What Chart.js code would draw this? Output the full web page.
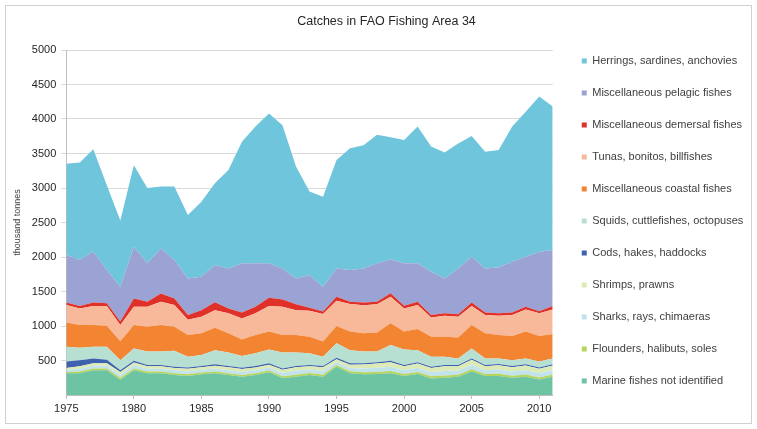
<!DOCTYPE html>
<html>
<head>
<meta charset="utf-8">
<script src="https://cdn.jsdelivr.net/npm/chart.js"></script>
<style>
  body { margin: 0; background: #fff; }
</style>
</head>
<body>
<canvas id="myChart" width="757" height="429"></canvas>
<script>
// DATA (thousand tonnes)

const years = [1975, 1976, 1977, 1978, 1979, 1980, 1981, 1982, 1983, 1984, 1985, 1986, 1987, 1988, 1989, 1990, 1991, 1992, 1993, 1994, 1995, 1996, 1997, 1998, 1999, 2000, 2001, 2002, 2003, 2004, 2005, 2006, 2007, 2008, 2009, 2010, 2011];

const marine = [315, 315, 360, 360, 220, 360, 315, 315, 290, 275, 300, 315, 290, 265, 290, 330, 245, 265, 290, 265, 410, 315, 300, 305, 315, 275, 305, 240, 250, 265, 340, 275, 275, 250, 265, 225, 265];
const flounders = [20, 25, 25, 25, 30, 25, 25, 25, 25, 25, 25, 25, 25, 25, 25, 25, 28, 30, 28, 30, 25, 28, 30, 30, 32, 30, 30, 30, 32, 30, 32, 30, 32, 30, 32, 30, 32];
const sharks = [30, 40, 40, 40, 45, 45, 40, 40, 42, 42, 40, 45, 45, 45, 45, 45, 50, 55, 50, 55, 45, 50, 55, 60, 62, 55, 60, 60, 65, 60, 68, 55, 62, 60, 65, 62, 65];
const shrimps = [25, 35, 35, 35, 40, 40, 35, 35, 35, 40, 37, 40, 42, 42, 40, 40, 44, 52, 47, 52, 38, 47, 57, 60, 66, 57, 60, 62, 70, 62, 70, 57, 63, 62, 65, 65, 65];
const cods = [95, 90, 70, 50, 25, 25, 20, 20, 18, 18, 18, 20, 18, 18, 20, 20, 18, 18, 20, 18, 22, 20, 18, 20, 20, 18, 20, 18, 18, 18, 20, 18, 18, 18, 18, 18, 18];
const squids = [215, 180, 170, 190, 145, 180, 195, 195, 230, 155, 160, 205, 195, 170, 185, 200, 230, 195, 170, 135, 210, 190, 170, 155, 230, 225, 175, 145, 120, 95, 145, 95, 80, 85, 85, 85, 85];
const coastal = [350, 330, 315, 305, 275, 340, 360, 385, 350, 315, 315, 325, 280, 240, 265, 260, 255, 255, 240, 220, 250, 270, 265, 275, 315, 260, 305, 290, 290, 305, 340, 365, 340, 350, 390, 370, 355];
const tunas = [255, 240, 275, 285, 235, 265, 290, 335, 315, 220, 240, 255, 290, 305, 315, 370, 410, 360, 375, 400, 365, 400, 405, 410, 385, 335, 350, 280, 305, 300, 275, 265, 280, 305, 320, 330, 355];
const demersal = [35, 35, 50, 40, 50, 120, 70, 120, 95, 70, 95, 115, 70, 85, 95, 120, 105, 85, 45, 35, 60, 30, 40, 35, 50, 40, 45, 35, 35, 35, 50, 35, 35, 35, 40, 30, 50];
const pelagic = [690, 670, 740, 480, 505, 750, 560, 655, 555, 530, 485, 540, 580, 715, 630, 500, 450, 375, 475, 360, 410, 460, 495, 560, 490, 615, 560, 625, 505, 665, 665, 640, 665, 735, 725, 860, 810];
const herrings = [1320, 1410, 1480, 1230, 960, 1180, 1090, 895, 1065, 920, 1085, 1185, 1425, 1760, 1980, 2170, 2075, 1620, 1210, 1305, 1570, 1765, 1785, 1860, 1770, 1785, 1980, 1815, 1825, 1810, 1750, 1690, 1700, 1960, 2100, 2250, 2080];

const yTicks = [500, 1000, 1500, 2000, 2500, 3000, 3500, 4000, 4500, 5000];

// SERIES (bottom of stack first)

const series = [
  { label: "Marine fishes not identified", values: marine, color: "#6dc4a2" },
  { label: "Flounders, halibuts, soles", values: flounders, color: "#b5d55c" },
  { label: "Sharks, rays, chimaeras", values: sharks, color: "#c2e3ec" },
  { label: "Shrimps, prawns", values: shrimps, color: "#dcebb5" },
  { label: "Cods, hakes, haddocks", values: cods, color: "#3f62ae" },
  { label: "Squids, cuttlefishes, octopuses", values: squids, color: "#b8e0d2" },
  { label: "Miscellaneous coastal fishes", values: coastal, color: "#f28432" },
  { label: "Tunas, bonitos, billfishes", values: tunas, color: "#f8b89a" },
  { label: "Miscellaneous demersal fishes", values: demersal, color: "#e0302a" },
  { label: "Miscellaneous pelagic fishes", values: pelagic, color: "#9ba3d4" },
  { label: "Herrings, sardines, anchovies", values: herrings, color: "#6ec5dc" },
];

const FONT = "Arial, 'Liberation Sans', sans-serif";

// PLUGINS: white background + thin frame, and small nudges of legend / title

const frame = {
  id: "frame",
  beforeDraw(chart) {
    const c = chart.ctx;
    c.save();
    c.fillStyle = "#fff";
    c.fillRect(0, 0, chart.width, chart.height);
    c.strokeStyle = "#d0d0d0";
    c.lineWidth = 1;
    c.strokeRect(5.5, 5.5, chart.width - 11, chart.height - 11);
    c.restore();
  },
};

const nudge = {
  id: "nudge",
  afterLayout(chart) {
    // gap between plot and legend, title centred a bit to the right like the original
    chart.legend.left += 8;
    chart.legend.right = chart.width - 2;
    chart.titleBlock.left += 14;
    chart.titleBlock.right += 14;
  },
};

// DRAWING GRAPH

const ctx = document.getElementById("myChart").getContext("2d");

new Chart(ctx, {
  type: "line",
  data: {
    datasets: series.map((s, i) => ({
      label: s.label,
      data: years.map((yr, j) => ({ x: yr, y: s.values[j] })),
      backgroundColor: s.color,
      borderColor: s.color,
      borderWidth: 0,
      pointRadius: 0,
      tension: 0,
      fill: i === 0 ? "origin" : "-1",
    })),
  },
  options: {
    responsive: false,
    animation: false,
    devicePixelRatio: 1,
    layout: { padding: { left: 12, right: 24, top: 14, bottom: 1 } },
    plugins: {
      title: {
        display: true,
        text: "Catches in FAO Fishing Area 34",
        color: "#262626",
        font: { family: FONT, size: 12.5, weight: "normal" },
        padding: { top: 0, bottom: 21 },
      },
      legend: {
        position: "right",
        reverse: true,
        labels: {
          boxWidth: 5,
          boxHeight: 5,
          padding: 21,
          color: "#404040",
          font: { family: FONT, size: 11 },
        },
      },
      tooltip: { enabled: false },
    },
    scales: {
      x: {
        type: "linear",
        min: 1975,
        max: 2011,
        afterFit: (scale) => {
          scale.height = 33;
        },
        grid: { drawOnChartArea: false, drawTicks: true, tickLength: 4, color: "#bfbfbf" },
        border: { color: "#bfbfbf" },
        ticks: {
          stepSize: 5,
          includeBounds: false,
          maxRotation: 0,
          padding: 3,
          color: "#262626",
          font: { family: FONT, size: 11 },
          callback: (v) => String(v),
        },
      },
      y: {
        stacked: true,
        min: 0,
        max: 5000,
        afterBuildTicks: (scale) => {
          scale.ticks = [0].concat(yTicks).map((v) => ({ value: v }));
        },
        grid: { color: "#d9d9d9", tickLength: 5 },
        border: { color: "#bfbfbf" },
        ticks: {
          padding: 5,
          color: "#262626",
          font: { family: FONT, size: 11 },
          callback: (v) => (v === 0 ? null : String(v)),
        },
        title: {
          display: true,
          text: "thousand tonnes",
          color: "#404040",
          font: { family: FONT, size: 9 },
          padding: { top: 0, bottom: 4 },
        },
      },
    },
  },
  plugins: [frame, nudge],
});
</script>
</body>
</html>
